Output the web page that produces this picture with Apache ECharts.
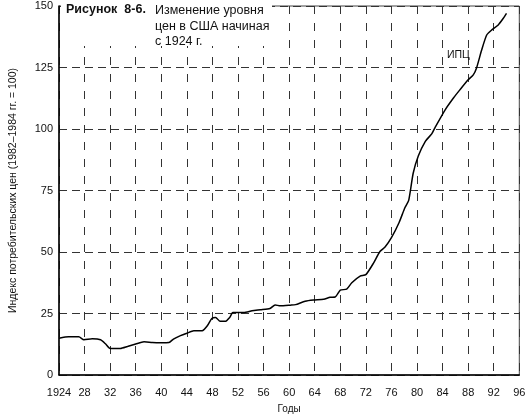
<!DOCTYPE html>
<html>
<head>
<meta charset="utf-8">
<script src="https://cdn.jsdelivr.net/npm/echarts@6/dist/echarts.min.js"></script>
<style>html,body{margin:0;padding:0;background:#fff}#c{width:529px;height:419px}</style>
</head>
<body>
<div id="c"></div>
<script>
// Years (x) and CPI values (1982–1984 = 100)
var years = [1924,1925.5,1927.1,1927.9,1929.2,1930.5,1931.3,1932,1933.6,1934.7,1936,1937.3,1938.6,1939.9,1941.2,1941.9,1943,1944,1945.1,1946.4,1947.2,1947.9,1948.5,1949.2,1950,1950.7,1951.2,1952.9,1954.2,1955.5,1957,1957.8,1958.6,1960.2,1961,1962.5,1963.8,1965.4,1966.4,1967.2,1968,1969,1969.8,1971.1,1972,1973.2,1974.2,1975,1976,1977.2,1978.1,1978.7,1979.4,1980.2,1981.3,1982.3,1982.8,1984.4,1985.7,1986.7,1988,1988.8,1989.3,1990.1,1990.9,1991.7,1992.7,1993.5,1994];
var cpi = [14.9,15.5,15.5,14.3,14.7,14.3,12.6,10.8,10.8,11.6,12.6,13.5,13.2,13.1,13.2,14.6,16.0,17.0,18.0,18.0,20.0,23.0,23.4,21.8,21.8,23.4,25.4,25.4,26.1,26.5,27.0,28.5,28.1,28.4,28.6,30.0,30.5,30.8,31.6,31.7,34.5,34.9,37.5,40.2,40.8,45.5,50.2,52.0,55.8,62.0,68.0,71.0,82.0,89.0,95.0,98.0,100.5,107.8,112.6,115.9,120.0,122.0,124.7,132.0,138.2,140.3,142.3,145.0,147.0];
var xMin = 1924, xMax = 1996, xStep = 4;
var yTicks = [0,25,50,75,100,125,150];
var titleBold = 'Рисунок  8-6.';
var titleText = 'Изменение уровня\nцен в США начиная\nс 1924 г.';
var seriesLabel = 'ИПЦ';
var yName = 'Индекс потребительских цен (1982–1984 гг. = 100)';
var xName = 'Годы';

var points = years.map(function(y, i){ return [y, cpi[i]]; });
var font = 'Liberation Sans';
var chart = echarts.init(document.getElementById('c'));
chart.setOption({
  animation: false,
  backgroundColor: '#fff',
  textStyle: { fontFamily: font },
  title: [
    { text: titleBold, left: 66, top: 3, padding: 0,
      textStyle: { fontFamily: font, fontSize: 12.5, fontWeight: 'bold', color: '#111' } },
    { text: titleText, left: 155, top: 3, padding: 0,
      textStyle: { fontFamily: font, fontSize: 12.5, fontWeight: 'normal', color: '#111', lineHeight: 15.5 } }
  ],
  graphic: [
    { type: 'rect', left: 61, top: 0, shape: { width: 211, height: 46 }, style: { fill: '#fff' }, z: 5 },
    { type: 'text', left: 447, top: 50, z: 6,
      style: { text: seriesLabel, fontFamily: font, fontSize: 10.5, fill: '#111' } }
  ],
  grid: { left: 58.5, right: 9.7, top: 6, bottom: 43, show: true, borderColor: '#444', borderWidth: 1, backgroundColor: 'transparent' },
  xAxis: {
    type: 'value', min: xMin, max: xMax, interval: xStep,
    name: xName, nameLocation: 'middle', nameGap: 29,
    nameTextStyle: { fontFamily: font, fontSize: 10, color: '#111' },
    axisLine: { lineStyle: { color: '#000', width: 1.5 } },
    axisTick: { show: false },
    axisLabel: { margin: 12, fontSize: 11, color: '#111', fontFamily: font,
      formatter: function(v){ return v === xMin ? String(v) : String(v % 100 === 0 ? '00' : v % 100); } },
    splitLine: { show: true, lineStyle: { color: '#333', width: 1, type: [8, 9] } }
  },
  yAxis: {
    type: 'value', min: yTicks[0], max: yTicks[yTicks.length-1], interval: yTicks[1]-yTicks[0],
    name: yName, nameLocation: 'middle', nameGap: 40, nameRotate: 90,
    nameTextStyle: { fontFamily: font, fontSize: 10.5, color: '#111' },
    axisLine: { show: true, lineStyle: { color: '#000', width: 1.5 } },
    axisTick: { show: false },
    axisLabel: { margin: 6, fontSize: 11, color: '#111', fontFamily: font },
    splitLine: { show: true, lineStyle: { color: '#333', width: 1, type: [8, 5] } }
  },
  series: [{
    type: 'line', name: seriesLabel, data: points, showSymbol: false, smooth: 0.2,
    lineStyle: { color: '#000', width: 1.5 }, z: 4
  }]
});
</script>
</body>
</html>
